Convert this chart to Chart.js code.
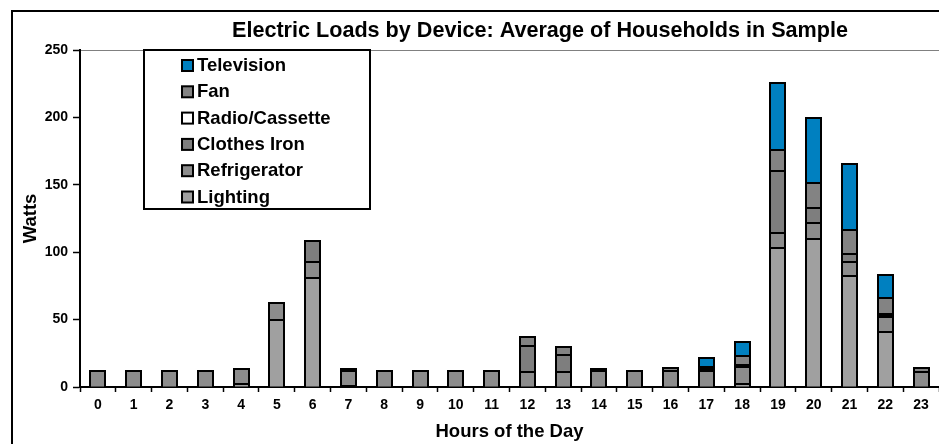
<!DOCTYPE html>
<html>
<head>
<meta charset="utf-8">
<script src="https://cdn.jsdelivr.net/npm/chart.js@4.4.1/dist/chart.umd.min.js"></script>
<style>
  html, body { margin: 0; padding: 0; background: #fff; }
  #wrap { position: relative; width: 939px; height: 444px; overflow: hidden; }
</style>
</head>
<body>
<div id="wrap"><canvas id="loadChart" width="939" height="444"></canvas></div>
<script>
// chart data, stacked bottom to top
var hours = ['0','1','2','3','4','5','6','7','8','9','10','11','12','13','14','15','16','17','18','19','20','21','22','23'];

var lighting     = [null,null,null,null,2.5,50,81,1,null,null,null,null,null,null,null,null,null,null,2.5,103,110,82,41,null];
var refrigerator = [11.5,11.5,11.5,11.5,10.5,12.5,12,11,11.5,11.5,11.5,11.5,11,11,11.5,11.5,11.5,11.5,12,11,11.5,10.5,11,11];
var clothesIron  = [null,null,null,null,null,null,15.5,0.6,null,null,null,null,19.5,12.5,null,null,null,0.8,2,46,11.5,6,1,null];
var radio        = [null,null,null,null,null,null,null,null,null,null,null,null,null,null,null,null,null,0.8,null,null,null,null,1,null];
var fan          = [null,null,null,null,null,null,null,0.6,null,null,null,null,6.5,6,1.5,0.5,2.5,2,6.5,16,18,18,12,3];
var television   = [null,null,null,null,null,null,null,null,null,null,null,null,null,null,null,null,null,6.5,10.5,49.5,48.5,49,17,null];

var yTicks = [0, 50, 100, 150, 200, 250];

var chartTitle = 'Electric Loads by Device: Average of Households in Sample';
var xTitle = 'Hours of the Day';
var yTitle = 'Watts';

var FONT = "'Liberation Sans', Arial, sans-serif";
Chart.defaults.font.family = FONT;
Chart.defaults.font.weight = 'bold';
Chart.defaults.color = '#000';

function series(label, data, color) {
  return {
    label: label,
    data: data,
    backgroundColor: color,
    borderWidth: 0,
    barPercentage: 0.42,
    categoryPercentage: 1.0
  };
}

// black outline round every bar segment (Excel style, centred on the edge)
var outlinePlugin = {
  id: 'outline',
  afterDatasetsDraw: function (chart) {
    var ctx = chart.ctx;
    ctx.save();
    ctx.strokeStyle = '#000';
    ctx.lineWidth = 2;
    chart.data.datasets.forEach(function (ds, i) {
      var meta = chart.getDatasetMeta(i);
      meta.data.forEach(function (bar, j) {
        if (ds.data[j] == null) return;
        var p = bar.getProps(['x', 'y', 'base', 'width'], true);
        var x0 = Math.round(p.x - p.width / 2);
        var x1 = Math.round(p.x + p.width / 2);
        var top = Math.round(p.y);
        var bot = Math.round(p.base);
        ctx.beginPath();
        ctx.moveTo(x0, bot);
        ctx.lineTo(x0, top);
        ctx.lineTo(x1, top);
        ctx.lineTo(x1, bot);
        ctx.stroke();
      });
    });
    ctx.restore();
  }
};

// frame, title and boxed legend drawn on the canvas
var decorPlugin = {
  id: 'decor',
  beforeDraw: function (chart) {
    var ctx = chart.ctx;
    ctx.save();
    ctx.fillStyle = '#fff';
    ctx.fillRect(0, 0, chart.width, chart.height);
    ctx.strokeStyle = '#000';
    ctx.lineWidth = 2;
    ctx.strokeRect(12, 11, 1000, 500);
    ctx.restore();
  },
  afterDraw: function (chart) {
    var ctx = chart.ctx;
    ctx.save();
    ctx.fillStyle = '#000';
    ctx.font = 'bold 21.6px ' + FONT;
    ctx.textAlign = 'center';
    ctx.textBaseline = 'middle';
    ctx.fillText(chartTitle, 540, 31);

    // legend box
    ctx.fillStyle = '#fff';
    ctx.fillRect(144, 50, 226, 159);
    ctx.strokeStyle = '#000';
    ctx.lineWidth = 2;
    ctx.strokeRect(144, 50, 226, 159);

    var sets = chart.data.datasets.slice().reverse();
    ctx.font = 'bold 18.5px ' + FONT;
    ctx.textAlign = 'left';
    sets.forEach(function (ds, i) {
      var cy = 66 + i * 26.3;
      ctx.fillStyle = ds.backgroundColor;
      ctx.fillRect(182, cy - 6, 11, 11);
      ctx.strokeStyle = '#000';
      ctx.lineWidth = 2;
      ctx.strokeRect(182, cy - 6, 11, 11);
      ctx.fillStyle = '#000';
      ctx.fillText(ds.label, 197, cy);
    });
    ctx.restore();
  }
};

var ctx = document.getElementById('loadChart').getContext('2d');

var loadChart = new Chart(ctx, {
  type: 'bar',
  data: {
    labels: hours,
    datasets: [
      series('Lighting', lighting, '#a0a0a0'),
      series('Refrigerator', refrigerator, '#8c8c8c'),
      series('Clothes Iron', clothesIron, '#7e7e7e'),
      series('Radio/Cassette', radio, '#ffffff'),
      series('Fan', fan, '#838383'),
      series('Television', television, '#0080c0')
    ]
  },
  options: {
    responsive: false,
    animation: false,
    layout: { padding: { left: 12, top: 50, right: 0, bottom: 0 } },
    plugins: {
      legend: { display: false },
      tooltip: { enabled: false }
    },
    scales: {
      x: {
        stacked: true,
        afterFit: function (scale) { scale.height = 57; },
        grid: {
          offset: true,
          drawOnChartArea: false,
          tickColor: '#000',
          tickLength: 5,
          tickWidth: 1.5
        },
        border: { color: '#000', width: 2 },
        ticks: { font: { size: 14, weight: 'bold' }, padding: 5, maxRotation: 0, autoSkip: false },
        title: { display: true, text: xTitle, font: { size: 18.5, weight: 'bold' }, padding: { top: 0, bottom: 1 } }
      },
      y: {
        stacked: true,
        min: 0,
        max: 250,
        afterFit: function (scale) { scale.width = 68; },
        afterBuildTicks: function (scale) {
          scale.ticks = yTicks.map(function (v) { return { value: v }; });
        },
        grid: {
          color: function (c) { return c.tick && c.tick.value === 250 ? '#808080' : 'rgba(0,0,0,0)'; },
          tickColor: '#000',
          tickLength: 7,
          tickWidth: 1.5
        },
        border: { color: '#000', width: 2 },
        ticks: { font: { size: 14, weight: 'bold' }, padding: 5 },
        title: { display: true, text: yTitle, font: { size: 18.5, weight: 'bold' }, padding: { top: 8, bottom: 0 } }
      }
    }
  },
  plugins: [outlinePlugin, decorPlugin]
});
</script>
</body>
</html>
